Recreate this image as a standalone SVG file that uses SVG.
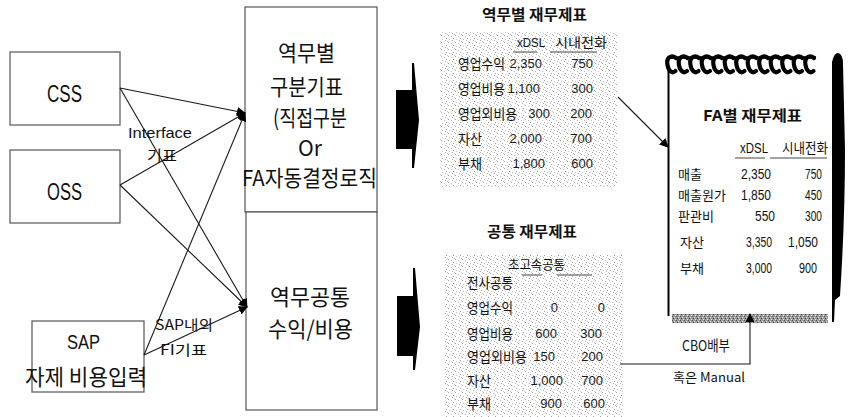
<svg xmlns="http://www.w3.org/2000/svg" width="849" height="417" viewBox="0 0 849 417">
  <style>
    .box { fill: #fff; stroke: #555; stroke-width: 1.2; }
    .kr { font-family: "Noto Sans CJK KR", "Liberation Sans", sans-serif; fill: #111; }
    .lat { font-family: "Liberation Sans", "Noto Sans CJK KR", sans-serif; fill: #111; }
    .big { font-size: 22px; }
    .lbl { font-size: 14px; }
    .ttl { font-size: 15px; font-weight: bold; }
    .tbl { font-size: 13px; }
    .num { font-family: "Liberation Sans", sans-serif; font-size: 13px; fill: #1a1a1a; }
    .con { stroke: #1a1a1a; stroke-width: 1.1; fill: none; }
    .uline { stroke: #444; stroke-width: 1; }
  </style>
  <defs>
    <marker id="head" viewBox="0 0 10 10" refX="9" refY="5" markerWidth="9" markerHeight="9" markerUnits="userSpaceOnUse" orient="auto">
      <path d="M0,0 L10,5 L0,10 z" fill="#000"/>
    </marker>
    <pattern id="dots" width="7" height="7" patternUnits="userSpaceOnUse">
      <rect x="0" y="0" width="1" height="1" fill="#a8a8a8"/>
      <rect x="3" y="1" width="1" height="1" fill="#bdbdbd"/>
      <rect x="5" y="3" width="1" height="1" fill="#a0a0a0"/>
      <rect x="1" y="4" width="1" height="1" fill="#c4c4c4"/>
      <rect x="4" y="5" width="1" height="1" fill="#b0b0b0"/>
      <rect x="6" y="6" width="1" height="1" fill="#c8c8c8"/>
    </pattern>
    <pattern id="grain" width="4" height="4" patternUnits="userSpaceOnUse">
      <rect width="4" height="4" fill="#9a9a9a"/>
      <rect x="0" y="0" width="1" height="1" fill="#555"/>
      <rect x="2" y="1" width="1" height="1" fill="#d8d8d8"/>
      <rect x="1" y="2" width="1" height="1" fill="#444"/>
      <rect x="3" y="3" width="1" height="1" fill="#e0e0e0"/>
    </pattern>
    <!-- one loop of the notebook binding -->
    <path id="coil" d="M9,3 C4,-1 -1,3 0.5,10 C1.5,16 5,19 8.5,16" fill="none" stroke="#000" stroke-width="4.2" stroke-linecap="round"/>
  </defs>

  <!-- source systems -->
  <g id="css">
    <rect class="box" x="10" y="52" width="110" height="73"/>
    <text class="lat" x="47" y="102" font-size="23" textLength="35" lengthAdjust="spacingAndGlyphs">CSS</text>
  </g>
  <g id="oss">
    <rect class="box" x="10" y="150" width="110" height="73"/>
    <text class="lat" x="47" y="200" font-size="23" textLength="35" lengthAdjust="spacingAndGlyphs">OSS</text>
  </g>
  <g id="sap">
    <rect class="box" x="32" y="321" width="112" height="71"/>
    <text class="lat" x="67" y="349" font-size="21" textLength="33" lengthAdjust="spacingAndGlyphs">SAP</text>
    <text class="kr" x="25" y="385" font-size="22" textLength="122" lengthAdjust="spacingAndGlyphs">자제 비용입력</text>
  </g>

  <!-- posting logic -->
  <g id="split-rule">
    <rect class="box" x="245" y="7" width="132" height="205"/>
    <text class="kr big" x="278" y="61" textLength="57" lengthAdjust="spacingAndGlyphs">역무별</text>
    <text class="kr big" x="270" y="95" textLength="73" lengthAdjust="spacingAndGlyphs">구분기표</text>
    <text class="kr big" x="273" y="126" textLength="74" lengthAdjust="spacingAndGlyphs">(직접구분</text>
    <text class="kr big" x="298" y="156" textLength="24" lengthAdjust="spacingAndGlyphs">Or</text>
    <text class="kr big" x="242" y="186" textLength="135" lengthAdjust="spacingAndGlyphs">FA자동결정로직</text>
  </g>
  <g id="common-cost">
    <rect class="box" x="246" y="212" width="131" height="198"/>
    <text class="kr big" x="270" y="305" textLength="80" lengthAdjust="spacingAndGlyphs">역무공통</text>
    <text class="kr big" x="268" y="337" textLength="85" lengthAdjust="spacingAndGlyphs">수익/비용</text>
  </g>

  <!-- block arrows -->
  <g id="flow-arrows" fill="#000">
    <polygon points="396,90 412,90 412,63 414,63 419,120 414,168 412,168 412,149 396,149"/>
    <polygon points="397,296 413,296 413,268 415,268 420,327 415,370 413,370 413,356 397,356"/>
  </g>

  <!-- service statement -->
  <g id="service-statement">
    <rect x="440" y="32" width="177" height="155" fill="url(#dots)"/>
    <text class="kr ttl" x="482" y="20" textLength="105" lengthAdjust="spacingAndGlyphs">역무별 재무제표</text>
    <text class="lat tbl" x="517" y="47" textLength="28" lengthAdjust="spacingAndGlyphs">xDSL</text>
    <text class="kr tbl" x="555" y="47" textLength="52" lengthAdjust="spacingAndGlyphs">시내전화</text>
    <line class="uline" x1="513" y1="52" x2="537" y2="52"/>
    <line class="uline" x1="550" y1="52" x2="597" y2="52"/>
    <g class="kr lbl">
      <text x="458" y="69" textLength="47" lengthAdjust="spacingAndGlyphs">영업수익</text>
      <text x="458" y="94" textLength="47" lengthAdjust="spacingAndGlyphs">영업비용</text>
      <text x="458" y="119" textLength="59" lengthAdjust="spacingAndGlyphs">영업외비용</text>
      <text x="458" y="144" textLength="24" lengthAdjust="spacingAndGlyphs">자산</text>
      <text x="458" y="169" textLength="24" lengthAdjust="spacingAndGlyphs">부채</text>
    </g>
    <g class="num" text-anchor="end">
      <text x="542" y="68">2,350</text>
      <text x="540" y="93">1,100</text>
      <text x="550" y="118">300</text>
      <text x="542" y="143">2,000</text>
      <text x="545" y="168">1,800</text>
      <text x="593" y="68">750</text>
      <text x="593" y="93">300</text>
      <text x="592" y="118">200</text>
      <text x="592" y="143">700</text>
      <text x="593" y="168">600</text>
    </g>
  </g>

  <!-- common statement -->
  <g id="common-statement">
    <rect x="445" y="255" width="178" height="162" fill="url(#dots)"/>
    <text class="kr ttl" x="487" y="237" textLength="90" lengthAdjust="spacingAndGlyphs">공통 재무제표</text>
    <text class="kr tbl" x="508" y="269" textLength="57" lengthAdjust="spacingAndGlyphs">초고속공통</text>
    <line class="uline" x1="522" y1="275" x2="542" y2="275"/>
    <line class="uline" x1="557" y1="275" x2="592" y2="275"/>
    <g class="kr lbl">
      <text x="467" y="288" textLength="46" lengthAdjust="spacingAndGlyphs">전사공통</text>
      <text x="467" y="313" textLength="46" lengthAdjust="spacingAndGlyphs">영업수익</text>
      <text x="467" y="339" textLength="46" lengthAdjust="spacingAndGlyphs">영업비용</text>
      <text x="467" y="362" textLength="60" lengthAdjust="spacingAndGlyphs">영업외비용</text>
      <text x="467" y="386" textLength="24" lengthAdjust="spacingAndGlyphs">자산</text>
      <text x="467" y="409" textLength="24" lengthAdjust="spacingAndGlyphs">부채</text>
    </g>
    <g class="num" text-anchor="end">
      <text x="558" y="312">0</text>
      <text x="557" y="338">600</text>
      <text x="555" y="361">150</text>
      <text x="563" y="385">1,000</text>
      <text x="562" y="408">900</text>
      <text x="605" y="312">0</text>
      <text x="602" y="338">300</text>
      <text x="603" y="361">200</text>
      <text x="603" y="385">700</text>
      <text x="605" y="408">600</text>
    </g>
  </g>

  <!-- FA statement notebook -->
  <g id="fa-statement">
    <rect x="668" y="62" width="164" height="253" fill="#fff"/>
    <line x1="668.5" y1="66" x2="668.5" y2="316" stroke="#000" stroke-width="2"/>
    <line x1="667" y1="57.5" x2="816" y2="57.5" stroke="#000" stroke-width="2.5"/>
    <g id="spiral">
      <use href="#coil" x="667" y="55"/>
      <use href="#coil" x="678.5" y="55"/>
      <use href="#coil" x="690" y="55"/>
      <use href="#coil" x="701.5" y="55"/>
      <use href="#coil" x="713" y="55"/>
      <use href="#coil" x="724.5" y="55"/>
      <use href="#coil" x="736" y="55"/>
      <use href="#coil" x="747.5" y="55"/>
      <use href="#coil" x="759" y="55"/>
      <use href="#coil" x="770.5" y="55"/>
      <use href="#coil" x="782" y="55"/>
      <use href="#coil" x="793.5" y="55"/>
      <use href="#coil" x="805" y="55"/>
    </g>
    <path d="M832,62 Q834,53 838,53 Q843,54 843,64 L845,150 Q845,220 840,296 L835,300 L834,322 L832,322 L832,200 Z" fill="#000"/>
    <rect x="672" y="314" width="156" height="9" fill="url(#grain)"/>
    <text class="kr ttl" x="703" y="121" font-size="16" textLength="99" lengthAdjust="spacingAndGlyphs">FA별 재무제표</text>
    <text class="lat" x="740" y="153" font-size="14" textLength="28" lengthAdjust="spacingAndGlyphs">xDSL</text>
    <text class="kr" x="782" y="153" font-size="14" textLength="46" lengthAdjust="spacingAndGlyphs">시내전화</text>
    <line class="uline" x1="735" y1="158" x2="765" y2="158"/>
    <line class="uline" x1="770" y1="158" x2="827" y2="158"/>
    <g class="kr" font-size="13">
      <text x="678" y="179" textLength="24" lengthAdjust="spacingAndGlyphs">매출</text>
      <text x="678" y="200" textLength="48" lengthAdjust="spacingAndGlyphs">매출원가</text>
      <text x="678" y="221" textLength="36" lengthAdjust="spacingAndGlyphs">판관비</text>
      <text x="680" y="247" textLength="24" lengthAdjust="spacingAndGlyphs">자산</text>
      <text x="680" y="273" textLength="24" lengthAdjust="spacingAndGlyphs">부채</text>
    </g>
    <g class="lat" font-size="14" text-anchor="end">
      <text x="771" y="179" textLength="30" lengthAdjust="spacingAndGlyphs">2,350</text>
      <text x="771" y="200" textLength="30" lengthAdjust="spacingAndGlyphs">1,850</text>
      <text x="775" y="221" textLength="20" lengthAdjust="spacingAndGlyphs">550</text>
      <text x="772" y="247" textLength="26" lengthAdjust="spacingAndGlyphs">3,350</text>
      <text x="772" y="273" textLength="26" lengthAdjust="spacingAndGlyphs">3,000</text>
      <text x="822" y="179" textLength="17" lengthAdjust="spacingAndGlyphs">750</text>
      <text x="822" y="200" textLength="17" lengthAdjust="spacingAndGlyphs">450</text>
      <text x="822" y="221" textLength="17" lengthAdjust="spacingAndGlyphs">300</text>
      <text x="818" y="247" textLength="30" lengthAdjust="spacingAndGlyphs">1,050</text>
      <text x="817" y="273" textLength="18" lengthAdjust="spacingAndGlyphs">900</text>
    </g>
  </g>

  <!-- connectors -->
  <g id="connectors">
    <line class="con" x1="120" y1="88" x2="245" y2="113" marker-end="url(#head)"/>
    <line class="con" x1="120" y1="185" x2="245" y2="113" marker-end="url(#head)"/>
    <line class="con" x1="144" y1="355" x2="245" y2="113" stroke-width="0.9" marker-end="url(#head)"/>
    <line class="con" x1="120" y1="88" x2="247" y2="307" marker-end="url(#head)"/>
    <line class="con" x1="120" y1="185" x2="247" y2="307" marker-end="url(#head)"/>
    <line class="con" x1="144" y1="355" x2="247" y2="307" stroke-width="2" marker-end="url(#head)"/>
    <line class="con" x1="618" y1="97" x2="668" y2="147" marker-end="url(#head)"/>
    <polyline class="con" points="620,364 750,364 750,314" stroke="#555" marker-end="url(#head)"/>
  </g>

  <!-- connector labels -->
  <g id="connector-labels">
    <text class="lat" x="128" y="138" font-size="15" textLength="64" lengthAdjust="spacingAndGlyphs">Interface</text>
    <text class="kr" x="147" y="161" font-size="15" textLength="30" lengthAdjust="spacingAndGlyphs">기표</text>
    <text class="kr" x="155" y="330" font-size="14" textLength="58" lengthAdjust="spacingAndGlyphs">SAP내의</text>
    <text class="kr" x="160" y="355" font-size="14" textLength="47" lengthAdjust="spacingAndGlyphs">FI기표</text>
    <text class="kr" x="682" y="351" font-size="15" textLength="48" lengthAdjust="spacingAndGlyphs">CBO배부</text>
    <text class="kr" x="673" y="382" font-size="13" textLength="72" lengthAdjust="spacingAndGlyphs">혹은 Manual</text>
  </g>
</svg>
